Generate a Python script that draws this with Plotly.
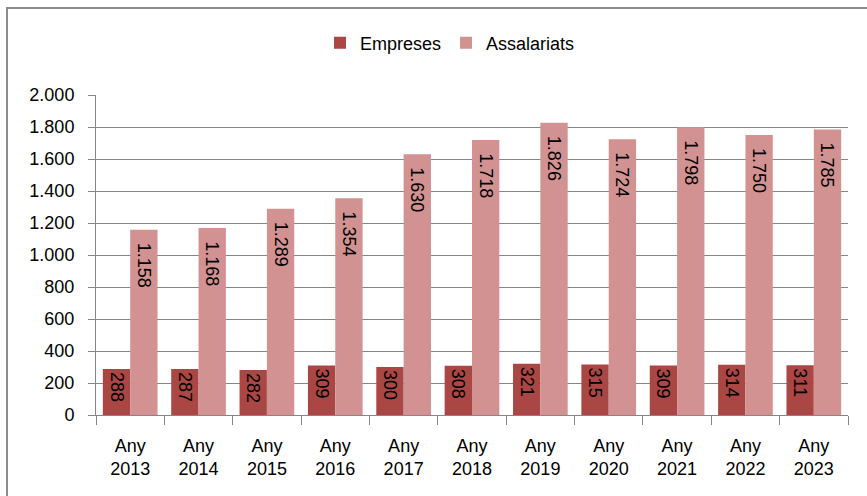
import plotly.graph_objects as go

years = ["Any<br>2013", "Any<br>2014", "Any<br>2015", "Any<br>2016", "Any<br>2017", "Any<br>2018",
         "Any<br>2019", "Any<br>2020", "Any<br>2021", "Any<br>2022", "Any<br>2023"]
empreses = [288, 287, 282, 309, 300, 308, 321, 315, 309, 314, 311]
assalariats = [1158, 1168, 1289, 1354, 1630, 1718, 1826, 1724, 1798, 1750, 1785]
y_ticks = [0, 200, 400, 600, 800, 1000, 1200, 1400, 1600, 1800, 2000]

FONT = "Liberation Sans, Arial, sans-serif"
W, H = 867, 496
L, R, T, B = 96, 19, 95, 81
pw, ph = W - L - R, H - T - B


def px_x(p):
    return (p - L) / pw


def px_y(p):
    return (H - B - p) / ph


fig = go.Figure()
fig.add_trace(go.Bar(
    x=years, y=empreses, name="Empreses",
    marker=dict(color="#AA4744", line=dict(width=0)),
    texttemplate="%{y:,d}", textposition="inside", insidetextanchor="end",
    textangle=90, insidetextfont=dict(family=FONT, size=18, color="black"),
))
fig.add_trace(go.Bar(
    x=years, y=assalariats, name="Assalariats",
    marker=dict(color="#D39292", line=dict(width=0)),
    texttemplate="\u00a0\u00a0%{y:,d}", textposition="inside", insidetextanchor="end",
    textangle=90, insidetextfont=dict(family=FONT, size=18, color="black"),
))

fig.update_layout(
    width=W, height=H,
    margin=dict(l=L, r=R, t=T, b=B, pad=0, autoexpand=False),
    paper_bgcolor="white", plot_bgcolor="white",
    separators=",.",
    barmode="group", bargap=0.2, bargroupgap=0,
    font=dict(family=FONT, size=18, color="black"),
    showlegend=True,
    legend=dict(orientation="h", x=px_x(320), xanchor="left", y=px_y(43), yanchor="middle",
                font=dict(family=FONT, size=18), itemwidth=30, traceorder="normal",
                bgcolor="rgba(0,0,0,0)"),
    uniformtext=dict(minsize=18, mode="show"),
    shapes=[dict(type="rect", xref="paper", yref="paper",
                 x0=px_x(7), x1=px_x(875), y0=px_y(505), y1=px_y(8),
                 line=dict(color="#8C8C8C", width=2), fillcolor="rgba(0,0,0,0)", layer="above")],
)
fig.update_xaxes(
    showline=True, linecolor="#868686", linewidth=1,
    ticks="outside", tickson="boundaries", ticklen=9, tickcolor="#868686",
    showgrid=False, tickfont=dict(family=FONT, size=18), ticklabelstandoff=14,
)
fig.update_yaxes(
    range=[0, 2000], tickvals=y_ticks, tickformat=",d",
    showline=True, linecolor="#868686", linewidth=1,
    ticks="outside", ticklen=7, tickcolor="#868686",
    showgrid=True, gridcolor="#868686", gridwidth=1, zeroline=False,
    tickfont=dict(family=FONT, size=18), ticklabelstandoff=10,
)

fig.write_html("out.html", config={"displayModeBar": False},
               post_script="document.body.style.margin='0';document.body.style.overflow='hidden';")
